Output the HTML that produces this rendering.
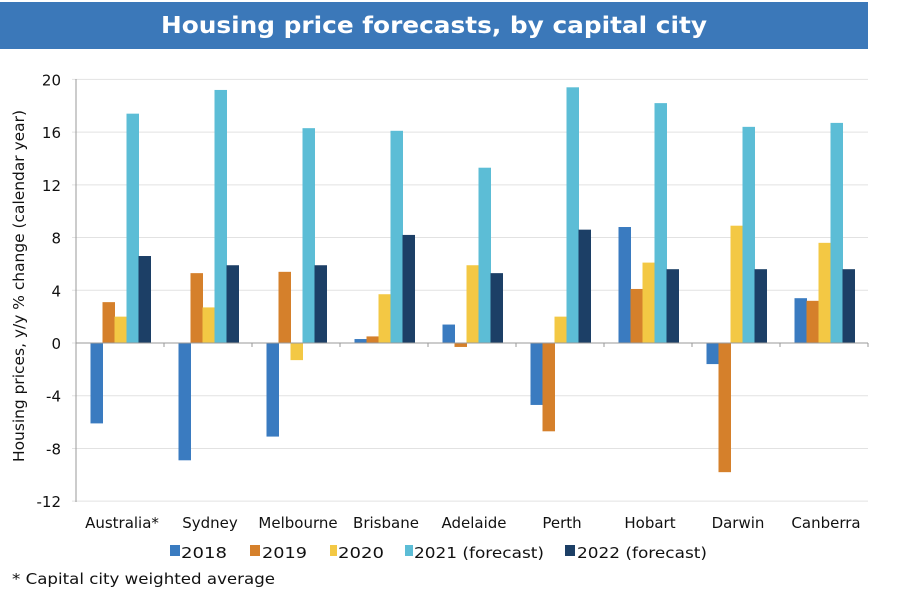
<!DOCTYPE html>
<html><head><style>body{margin:0;background:#fff}svg{display:block}</style></head><body>
<svg width="900" height="603" xmlns="http://www.w3.org/2000/svg" font-family="DejaVu Sans, sans-serif">
<rect x="0" y="2" width="868" height="47" fill="#3b78b9"/>
<text x="434" y="33" text-anchor="middle" fill="#fff" font-size="23" font-weight="bold" textLength="546" lengthAdjust="spacingAndGlyphs">Housing price forecasts, by capital city</text>
<g id="grid"></g>
<text transform="translate(24,286) rotate(-90)" text-anchor="middle" font-size="15" fill="#111" textLength="352" lengthAdjust="spacingAndGlyphs">Housing prices, y/y % change (calendar year)</text>
<g id="chart"></g>
<g font-size="15" fill="#111">
<rect x="170" y="545" width="10" height="11" fill="#3a7bc0"/><text x="181" y="558" textLength="46" lengthAdjust="spacingAndGlyphs">2018</text>
<rect x="250" y="545" width="10" height="11" fill="#d5802b"/><text x="262" y="558" textLength="45" lengthAdjust="spacingAndGlyphs">2019</text>
<rect x="330" y="545" width="7" height="11" fill="#f3c844"/><text x="338" y="558" textLength="46" lengthAdjust="spacingAndGlyphs">2020</text>
<rect x="405" y="545" width="8" height="11" fill="#5cbdd6"/><text x="414" y="558" textLength="130" lengthAdjust="spacingAndGlyphs">2021 (forecast)</text>
<rect x="565" y="545" width="10" height="11" fill="#1c3f66"/><text x="577" y="558" textLength="130" lengthAdjust="spacingAndGlyphs">2022 (forecast)</text>
<text x="12" y="584" textLength="263" lengthAdjust="spacingAndGlyphs">* Capital city weighted average</text>
</g>
</svg>
<script>
const ns="http://www.w3.org/2000/svg",g=document.getElementById('chart'),gr=document.getElementById('grid');
function el(p,t,a,txt){const e=document.createElementNS(ns,t);for(const k in a)e.setAttribute(k,a[k]);if(txt)e.textContent=txt;p.appendChild(e);return e;}
const y0=343,s=13.18,X0=76,X1=868,cw=(X1-X0)/9;
for(let v=-12;v<=20;v+=4){const y=y0-v*s;el(gr,'line',{x1:X0-4,x2:X1,y1:y,y2:y,stroke:'#e2e2e2','stroke-width':1});
el(gr,'text',{x:61,y:y+6,'text-anchor':'end','font-size':15,fill:'#111'},String(v));}
el(gr,'line',{x1:X0,x2:X0,y1:79,y2:502,stroke:'#999'});
const cats=["Australia*","Sydney","Melbourne","Brisbane","Adelaide","Perth","Hobart","Darwin","Canberra"];
const d=[[-6.1,3.1,2.0,17.4,6.6],[-8.9,5.3,2.7,19.2,5.9],[-7.1,5.4,-1.3,16.3,5.9],[0.3,0.5,3.7,16.1,8.2],[1.4,-0.3,5.9,13.3,5.3],[-4.7,-6.7,2.0,19.4,8.6],[8.8,4.1,6.1,18.2,5.6],[-1.6,-9.8,8.9,16.4,5.6],[3.4,3.2,7.6,16.7,5.6]];
const cols=["#3a7bc0","#d5802b","#f3c844","#5cbdd6","#1c3f66"];
cats.forEach((c,i)=>{const cx=X0+cw*i;
d[i].forEach((v,j)=>{const x=cx+14.5+j*12;const h=Math.abs(v)*s;el(g,'rect',{x:x,y:v>0?y0-h:y0,width:12.5,height:h,fill:cols[j]});});
el(g,'line',{x1:cx+cw,x2:cx+cw,y1:y0,y2:y0+4,stroke:'#999'});
el(g,'text',{x:cx+cw/2+2,y:528,'text-anchor':'middle','font-size':15,fill:'#111'},c);});
el(g,'line',{x1:X0,x2:X1,y1:y0,y2:y0,stroke:'#999'});
</script>
</body></html>
